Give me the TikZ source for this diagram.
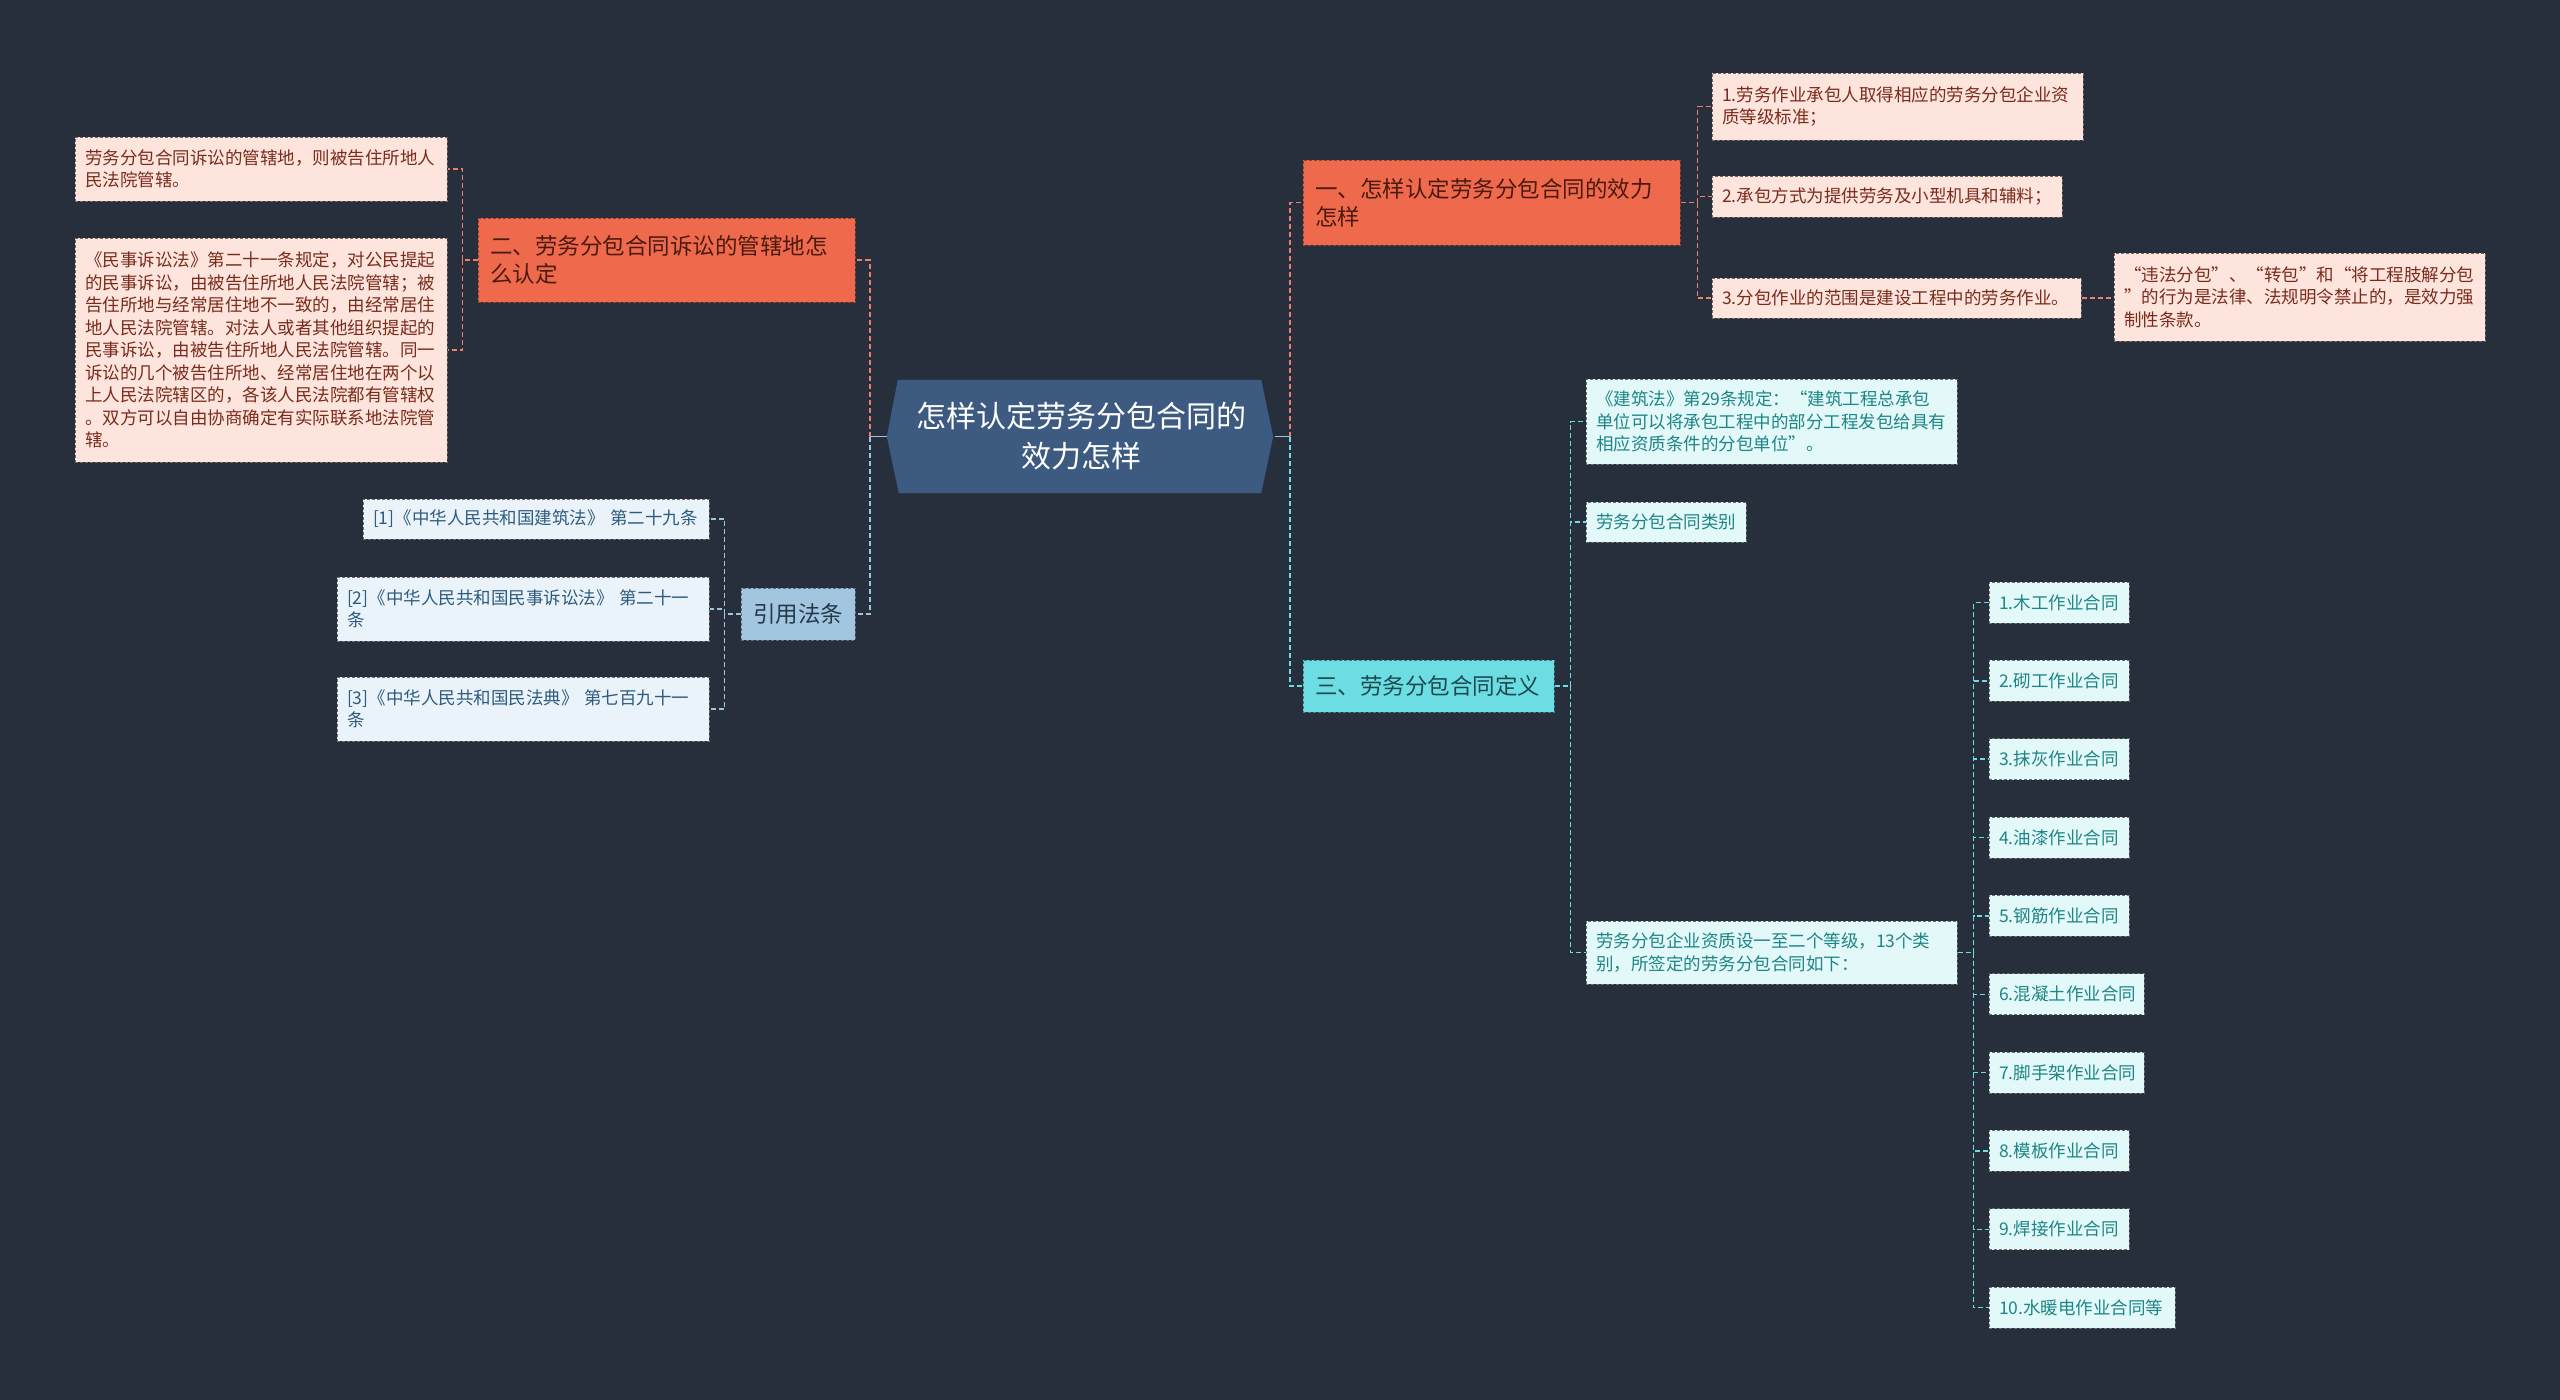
\documentclass[tikz,border=0pt]{standalone}
\usepackage{fontspec}
\setmainfont{Noto Sans CJK SC}
\usetikzlibrary{backgrounds}
\definecolor{bg}{HTML}{272F3D}
\definecolor{rootF}{HTML}{3D5A80}
\definecolor{orF}{HTML}{EF6A4C}
\definecolor{orT}{HTML}{4A1A10}
\definecolor{pkF}{HTML}{FDE4DC}
\definecolor{pkT}{HTML}{7A2C1C}
\definecolor{cyF}{HTML}{6CDDE3}
\definecolor{cyT}{HTML}{1C4A50}
\definecolor{lcF}{HTML}{E2F8F9}
\definecolor{lcT}{HTML}{1F8585}
\definecolor{blF}{HTML}{A2C6DF}
\definecolor{blT}{HTML}{24384A}
\definecolor{lbF}{HTML}{EAF3F9}
\definecolor{lbT}{HTML}{2E5C7E}
\definecolor{lineO}{HTML}{E8806A}
\definecolor{lineB}{HTML}{9CC6E0}
\definecolor{lineC}{HTML}{6CDDE3}
\tikzset{
 box/.style={rectangle, inner ysep=0pt, align=left, line width=1pt, dash pattern=on 3pt off 2pt},
 sm/.style={inner xsep=10pt, font=\fontsize{17.5}{22.5}\selectfont},
 md/.style={inner xsep=12pt, font=\fontsize{22.5}{28}\selectfont},
 orbox/.style={box, md, fill=orF, draw=orF!60!black, text=orT},
 pkbox/.style={box, sm, fill=pkF, draw=pkF!45!black, text=pkT},
 cybox/.style={box, md, fill=cyF, draw=cyF!55!black, text=cyT},
 lcbox/.style={box, sm, fill=lcF, draw=lcF!45!black, text=lcT},
 blbox/.style={box, md, fill=blF, draw=blF!55!black, text=blT},
 lbbox/.style={box, sm, fill=lbF, draw=lbF!45!black, text=lbT},
 conn/.style={line width=1.5pt, dash pattern=on 5pt off 3pt},
 oline/.style={conn, draw=lineO},
 bline/.style={conn, draw=lineB},
 cline/.style={conn, draw=lineC},
 rline/.style={line width=1.5pt, draw=lineB},
}
\begin{document}
\begin{tikzpicture}[x=1pt,y=-1pt]
\useasboundingbox (0,0) rectangle (2560,1400);
\begin{pgfonlayer}{background}
\fill[bg] (0,0) rectangle (2560,1400);
\end{pgfonlayer}

% root
\node[minimum width=388pt, minimum height=113pt, align=center, text=white, inner sep=0pt,
      font=\fontsize{30}{40}\selectfont] (root) at (1081,436.5) {怎样认定劳务分包合同的\\效力怎样};
\begin{pgfonlayer}{background}
\fill[rootF] ([xshift=11pt]root.north west) -- ([xshift=-14pt]root.north east) -- ([xshift=-2pt]root.east)
  -- ([xshift=-14pt]root.south east) -- ([xshift=12pt]root.south west) -- (root.west) -- cycle;
\end{pgfonlayer}

% left: branch 2
\node[orbox, minimum width=377pt, minimum height=84pt, text width=353pt] (B2) at (666.5,260) {二、劳务分包合同诉讼的管辖地怎\\么认定};
\node[pkbox, minimum width=372pt, minimum height=64pt, text width=352pt] (L1) at (261,169) {劳务分包合同诉讼的管辖地，则被告住所地人\\民法院管辖。};
\node[pkbox, minimum width=372pt, minimum height=224pt, text width=352pt] (L2) at (261,350) {《民事诉讼法》第二十一条规定，对公民提起\\的民事诉讼，由被告住所地人民法院管辖；被\\告住所地与经常居住地不一致的，由经常居住\\地人民法院管辖。对法人或者其他组织提起的\\民事诉讼，由被告住所地人民法院管辖。同一\\诉讼的几个被告住所地、经常居住地在两个以\\上人民法院辖区的，各该人民法院都有管辖权\\。双方可以自由协商确定有实际联系地法院管\\辖。};

% left: references
\node[blbox, minimum width=114pt, minimum height=52pt, text width=90pt, align=center] (Ref) at (798,614) {引用法条};
\node[lbbox, minimum width=346pt, minimum height=40pt, text width=326pt] (R1) at (536,519) {[1]《中华人民共和国建筑法》 第二十九条};
\node[lbbox, minimum width=372pt, minimum height=64pt, text width=352pt] (R2) at (523,609) {[2]《中华人民共和国民事诉讼法》 第二十一\\条};
\node[lbbox, minimum width=372pt, minimum height=64pt, text width=352pt] (R3) at (523,709) {[3]《中华人民共和国民法典》 第七百九十一\\条};

% right: branch 1
\node[orbox, minimum width=377pt, minimum height=85pt, text width=353pt] (B1) at (1491.5,202.5) {一、怎样认定劳务分包合同的效力\\怎样};
\node[pkbox, minimum width=371pt, minimum height=67pt, text width=351pt] (A1) at (1897.5,106.5) {1.劳务作业承包人取得相应的劳务分包企业资\\质等级标准；};
\node[pkbox, minimum width=350pt, minimum height=41pt, text width=330pt] (A2) at (1887,196.5) {2.承包方式为提供劳务及小型机具和辅料；};
\node[pkbox, minimum width=369pt, minimum height=40pt, text width=349pt] (A3) at (1896.5,298) {3.分包作业的范围是建设工程中的劳务作业。};
\node[pkbox, minimum width=371pt, minimum height=88pt, text width=351pt] (A3c) at (2299.5,297) {“违法分包”、“转包”和“将工程肢解分包\\”的行为是法律、法规明令禁止的，是效力强\\制性条款。};

% right: branch 3
\node[cybox, minimum width=251pt, minimum height=52pt, text width=227pt] (B3) at (1428.5,686) {三、劳务分包合同定义};
\node[lcbox, minimum width=371pt, minimum height=85pt, text width=351pt] (C1) at (1771.5,421.5) {《建筑法》第29条规定：“建筑工程总承包\\单位可以将承包工程中的部分工程发包给具有\\相应资质条件的分包单位”。};
\node[lcbox, minimum width=160pt, minimum height=40pt, text width=140pt] (C2) at (1666,522) {劳务分包合同类别};
\node[lcbox, minimum width=371pt, minimum height=63pt, text width=351pt] (C3) at (1771.5,952.5) {劳务分包企业资质设一至二个等级，13个类\\别，所签定的劳务分包合同如下：};

\node[lcbox, minimum width=140pt, minimum height=41pt, text width=120pt] (D1) at (2059,602.5) {1.木工作业合同};
\node[lcbox, minimum width=140pt, minimum height=41pt, text width=120pt] (D2) at (2059,680.85) {2.砌工作业合同};
\node[lcbox, minimum width=140pt, minimum height=41pt, text width=120pt] (D3) at (2059,759.2) {3.抹灰作业合同};
\node[lcbox, minimum width=140pt, minimum height=41pt, text width=120pt] (D4) at (2059,837.55) {4.油漆作业合同};
\node[lcbox, minimum width=140pt, minimum height=41pt, text width=120pt] (D5) at (2059,915.9) {5.钢筋作业合同};
\node[lcbox, minimum width=155pt, minimum height=41pt, text width=135pt] (D6) at (2066.5,994.25) {6.混凝土作业合同};
\node[lcbox, minimum width=155pt, minimum height=41pt, text width=135pt] (D7) at (2066.5,1072.6) {7.脚手架作业合同};
\node[lcbox, minimum width=140pt, minimum height=41pt, text width=120pt] (D8) at (2059,1150.95) {8.模板作业合同};
\node[lcbox, minimum width=140pt, minimum height=41pt, text width=120pt] (D9) at (2059,1229.3) {9.焊接作业合同};
\node[lcbox, minimum width=186pt, minimum height=41pt, text width=166pt] (D10) at (2082,1307.65) {10.水暖电作业合同等};

% connectors from root
\draw[rline] (root.west) -- ++(-17,0) coordinate (jl);
\draw[oline] (jl) |- (B2.east);
\draw[bline] (jl) |- (Ref.east);
\draw[rline] (root.east) -- ++(15,0) coordinate (jr);
\draw[oline] (jr) |- (B1.west);
\draw[cline] (jr) |- (B3.west);

% branch 2 children
\draw[oline] (B2.west) -- ++(-15,0) coordinate (j2);
\foreach \n in {L1,L2} \draw[oline] (j2) |- (\n.east);
% references
\draw[bline] (Ref.west) -- ++(-16,0) coordinate (jref);
\foreach \n in {R1,R2,R3} \draw[bline] (jref) |- (\n.east);
% branch 1 children
\draw[oline] (B1.east) -- ++(17,0) coordinate (j1);
\foreach \n in {A1,A2,A3} \draw[oline] (j1) |- (\n.west);
\draw[oline] (A3.east) -- (A3c.west |- A3.east);
% branch 3 children
\draw[cline] (B3.east) -- ++(16,0) coordinate (j3);
\foreach \n in {C1,C2,C3} \draw[cline] (j3) |- (\n.west);
\draw[cline] (C3.east) -- ++(16,0) coordinate (j4);
\foreach \n in {D1,D2,D3,D4,D5,D6,D7,D8,D9,D10} \draw[cline] (j4) |- (\n.west);
\end{tikzpicture}
\end{document}
